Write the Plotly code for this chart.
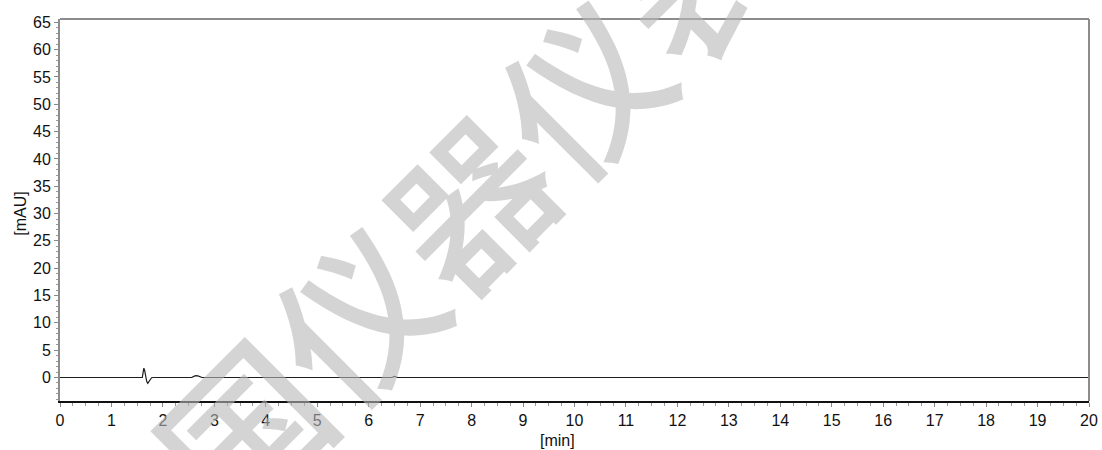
import plotly.graph_objects as go

# Chromatogram trace (time in min, signal in mAU)
time_min = [0, 1.60, 1.615, 1.63, 1.645, 1.665, 1.685, 1.705, 1.725, 1.75, 1.78, 1.82,
            2.56, 2.60, 2.64, 2.68, 2.72, 2.76, 6.45, 6.50, 6.56, 20]
signal_mau = [0, 0, 0.9, 1.7, 1.3, 0.2, -0.7, -1.05, -0.8, -0.3, -0.05, 0,
              0, 0.2, 0.35, 0.3, 0.1, 0, 0, 0.2, 0, 0]

x_ticks = list(range(0, 21))
y_ticks = list(range(0, 66, 5))
watermark = "中国仪器仪表网"

FONT = "Liberation Sans, Arial, sans-serif"

fig = go.Figure()
fig.add_trace(go.Scatter(x=time_min, y=signal_mau, mode="lines",
                         line=dict(color="#1e1e1e", width=1.2),
                         hoverinfo="skip", showlegend=False))

fig.update_layout(
    width=1102, height=450,
    margin=dict(l=60, r=13, t=19, b=48.5),
    paper_bgcolor="white", plot_bgcolor="white",
    font=dict(family=FONT, size=16, color="#111"),
    xaxis=dict(range=[0, 20], tickvals=x_ticks, ticktext=[str(v) for v in x_ticks],
               automargin=False,
               showgrid=False, zeroline=False,
               showline=True, linecolor="#111", linewidth=2,
               ticks="outside", ticklen=4, tickcolor="#888", tickwidth=1,
               minor=dict(dtick=0.25, ticks="outside", ticklen=3, tickcolor="#999", tickwidth=1),
               tickfont=dict(size=16, family=FONT, color="#111")),
    yaxis=dict(range=[-4.3, 65.6], tickvals=y_ticks, ticktext=[str(v) for v in y_ticks],
               automargin=False,
               showgrid=False, zeroline=False,
               showline=True, linecolor="#8c8c8c", linewidth=2,
               ticks="outside", ticklen=4, tickcolor="#888", tickwidth=1,
               minor=dict(dtick=1, ticks="outside", ticklen=2, tickcolor="#999", tickwidth=1),
               tickfont=dict(size=16, family=FONT, color="#111")),
)

# frame top and right (grey)
fig.add_shape(type="line", xref="paper", yref="paper", x0=0, x1=1, y0=1, y1=1,
              line=dict(color="#8c8c8c", width=2))
fig.add_shape(type="line", xref="paper", yref="paper", x0=1, x1=1, y0=0, y1=1,
              line=dict(color="#8c8c8c", width=2))

# axis titles
fig.add_annotation(text="[min]", xref="paper", yref="paper", x=(557 - 60) / 1029, y=-(441 - 401.5) / 382.5,
                   showarrow=False, xanchor="center", yanchor="middle",
                   font=dict(size=16, family=FONT, color="#111"))
fig.add_annotation(text="[mAU]", xref="paper", yref="paper", x=-(60 - 21) / 1029, y=(401.5 - 214) / 382.5,
                   showarrow=False, xanchor="center", yanchor="middle", textangle=-90,
                   font=dict(size=16, family=FONT, color="#111"))

# watermark
fig.add_annotation(text=watermark, xref="paper", yref="paper",
                   x=(465 - 60) / 1029, y=(401.5 - 199) / 382.5,
                   showarrow=False, xanchor="center", yanchor="middle", textangle=-45,
                   font=dict(size=160, family="Noto Sans CJK SC", weight=500,
                             color="rgba(183,183,183,0.6)"))

fig.write_html("out.html")
